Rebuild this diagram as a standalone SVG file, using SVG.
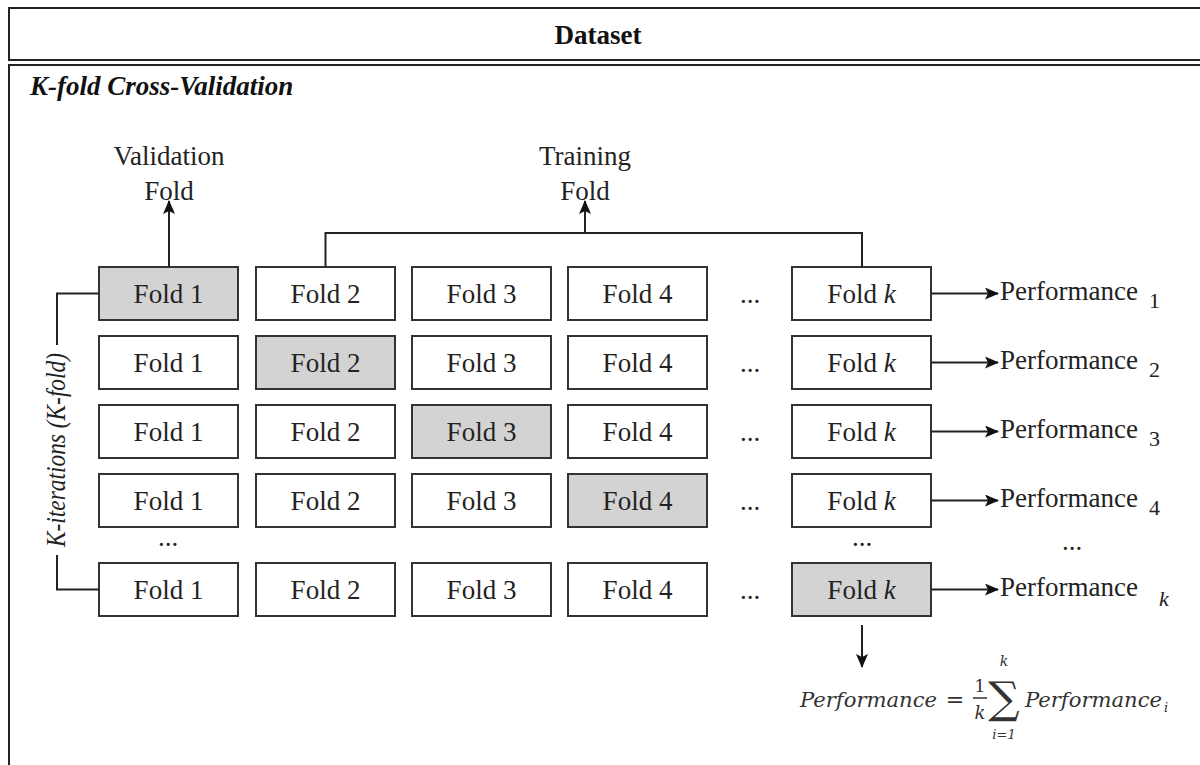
<svg xmlns="http://www.w3.org/2000/svg" width="1200" height="765" viewBox="0 0 1200 765">
  <defs>
    <marker id="arrow" markerUnits="userSpaceOnUse" markerWidth="14" markerHeight="12" refX="13" refY="6" orient="auto">
      <path d="M0,0 L14,6 L0,12 L3,6 Z" fill="#111"/>
    </marker>
    <style>
      .frame { fill: none; stroke: #222; stroke-width: 2; }
      .box { fill: #fff; stroke: #333; stroke-width: 2; }
      .sel { fill: #d3d3d3; stroke: #333; stroke-width: 2; }
      .t { font-family: "Liberation Serif", "Times New Roman", serif; font-size: 27px; fill: #222; }
      .c { text-anchor: middle; }
      .sub { font-family: "Liberation Serif", "Times New Roman", serif; font-size: 22px; fill: #222; }
      .head { font-family: "Liberation Serif", "Times New Roman", serif; font-size: 27px; font-weight: bold; fill: #111; }
      .m { font-family: "DejaVu Serif", "Liberation Serif", serif; fill: #333; }
      .it { font-style: italic; }
      .conn { fill: none; stroke: #222; stroke-width: 2; }
    </style>
  </defs>

  <rect width="1200" height="765" fill="#fff"/>

  <!-- outer frames -->
  <g id="dataset">
    <rect class="frame" x="9" y="8" width="1210" height="52"/>
    <text class="head c" x="598" y="44">Dataset</text>
  </g>
  <g id="kfold-panel">
    <rect class="frame" x="9" y="65" width="1210" height="720"/>
    <text class="head it" x="30" y="95">K-fold Cross-Validation</text>
  </g>

  <!-- labels above the grid -->
  <g id="validation-label">
    <text class="t c" x="169" y="165">Validation</text>
    <text class="t c" x="169" y="200">Fold</text>
  </g>
  <g id="training-label">
    <text class="t c" x="585" y="165">Training</text>
    <text class="t c" x="585" y="200">Fold</text>
  </g>

  <!-- row 1 -->
  <g id="row1">
    <rect class="sel" x="99" y="267" width="139" height="53"/><text class="t c" x="168.5" y="303">Fold 1</text>
    <rect class="box" x="256" y="267" width="139" height="53"/><text class="t c" x="325.5" y="303">Fold 2</text>
    <rect class="box" x="412" y="267" width="139" height="53"/><text class="t c" x="481.5" y="303">Fold 3</text>
    <rect class="box" x="568" y="267" width="139" height="53"/><text class="t c" x="637.5" y="303">Fold 4</text>
    <text class="t c" x="750" y="303">...</text>
    <rect class="box" x="792" y="267" width="139" height="53"/><text class="t c" x="861.5" y="303">Fold <tspan class="it">k</tspan></text>
    <text class="t" x="1000" y="300">Performance</text><text class="sub" x="1149" y="308">1</text>
  </g>

  <!-- row 2 -->
  <g id="row2">
    <rect class="box" x="99" y="336" width="139" height="53"/><text class="t c" x="168.5" y="372">Fold 1</text>
    <rect class="sel" x="256" y="336" width="139" height="53"/><text class="t c" x="325.5" y="372">Fold 2</text>
    <rect class="box" x="412" y="336" width="139" height="53"/><text class="t c" x="481.5" y="372">Fold 3</text>
    <rect class="box" x="568" y="336" width="139" height="53"/><text class="t c" x="637.5" y="372">Fold 4</text>
    <text class="t c" x="750" y="372">...</text>
    <rect class="box" x="792" y="336" width="139" height="53"/><text class="t c" x="861.5" y="372">Fold <tspan class="it">k</tspan></text>
    <text class="t" x="1000" y="369">Performance</text><text class="sub" x="1149" y="377">2</text>
  </g>

  <!-- row 3 -->
  <g id="row3">
    <rect class="box" x="99" y="405" width="139" height="53"/><text class="t c" x="168.5" y="441">Fold 1</text>
    <rect class="box" x="256" y="405" width="139" height="53"/><text class="t c" x="325.5" y="441">Fold 2</text>
    <rect class="sel" x="412" y="405" width="139" height="53"/><text class="t c" x="481.5" y="441">Fold 3</text>
    <rect class="box" x="568" y="405" width="139" height="53"/><text class="t c" x="637.5" y="441">Fold 4</text>
    <text class="t c" x="750" y="441">...</text>
    <rect class="box" x="792" y="405" width="139" height="53"/><text class="t c" x="861.5" y="441">Fold <tspan class="it">k</tspan></text>
    <text class="t" x="1000" y="438">Performance</text><text class="sub" x="1149" y="446">3</text>
  </g>

  <!-- row 4 -->
  <g id="row4">
    <rect class="box" x="99" y="474" width="139" height="53"/><text class="t c" x="168.5" y="510">Fold 1</text>
    <rect class="box" x="256" y="474" width="139" height="53"/><text class="t c" x="325.5" y="510">Fold 2</text>
    <rect class="box" x="412" y="474" width="139" height="53"/><text class="t c" x="481.5" y="510">Fold 3</text>
    <rect class="sel" x="568" y="474" width="139" height="53"/><text class="t c" x="637.5" y="510">Fold 4</text>
    <text class="t c" x="750" y="510">...</text>
    <rect class="box" x="792" y="474" width="139" height="53"/><text class="t c" x="861.5" y="510">Fold <tspan class="it">k</tspan></text>
    <text class="t" x="1000" y="507">Performance</text><text class="sub" x="1149" y="515">4</text>
  </g>

  <!-- elided rows -->
  <g id="ellipsis-row">
    <text class="t c" x="168" y="546">...</text>
    <text class="t c" x="862" y="546">...</text>
    <text class="t c" x="1072" y="550">...</text>
  </g>

  <!-- row k -->
  <g id="rowk">
    <rect class="box" x="99" y="563" width="139" height="53"/><text class="t c" x="168.5" y="599">Fold 1</text>
    <rect class="box" x="256" y="563" width="139" height="53"/><text class="t c" x="325.5" y="599">Fold 2</text>
    <rect class="box" x="412" y="563" width="139" height="53"/><text class="t c" x="481.5" y="599">Fold 3</text>
    <rect class="box" x="568" y="563" width="139" height="53"/><text class="t c" x="637.5" y="599">Fold 4</text>
    <text class="t c" x="750" y="599">...</text>
    <rect class="sel" x="792" y="563" width="139" height="53"/><text class="t c" x="861.5" y="599">Fold <tspan class="it">k</tspan></text>
    <text class="t" x="1000" y="596">Performance</text><text class="sub it" x="1159" y="606">k</text>
  </g>

  <!-- iteration label -->
  <g id="iterations-label">
    <text class="t c it" x="0" y="0" font-size="23" textLength="194" lengthAdjust="spacingAndGlyphs" transform="translate(65,450) rotate(-90)">K-iterations (K-fold)</text>
  </g>

  <!-- averaged performance -->
  <g id="formula">
    <text class="m it" x="800" y="707" font-size="20" textLength="137" lengthAdjust="spacingAndGlyphs">Performance</text>
    <text class="m c" x="955" y="707" font-size="22">=</text>
    <text class="m c" x="980" y="692" font-size="17">1</text>
    <line x1="973" y1="698" x2="987" y2="698" stroke="#333" stroke-width="1.5"/>
    <text class="m c it" x="980" y="719" font-size="18">k</text>
    <text class="m c" x="1004" y="713" font-size="44">∑</text>
    <text class="m c it" x="1004" y="666" font-size="14">k</text>
    <text class="m c it" x="1004" y="739" font-size="13">i=1</text>
    <text class="m it" x="1025" y="707" font-size="20" textLength="137" lengthAdjust="spacingAndGlyphs">Performance</text>
    <text class="m it" x="1164" y="712" font-size="13">i</text>
  </g>

  <!-- connectors -->
  <g id="connectors">
    <path class="conn" d="M169,267 V201" marker-end="url(#arrow)"/>
    <path class="conn" d="M325.5,267 V233 H862 V267"/>
    <path class="conn" d="M585,233 V201" marker-end="url(#arrow)"/>
    <path class="conn" d="M99,293.5 H57 V345"/>
    <path class="conn" d="M57,555 V589.5 H99"/>
    <path class="conn" d="M931,293.5 H998" marker-end="url(#arrow)"/>
    <path class="conn" d="M931,362.5 H998" marker-end="url(#arrow)"/>
    <path class="conn" d="M931,431.5 H998" marker-end="url(#arrow)"/>
    <path class="conn" d="M931,500.5 H998" marker-end="url(#arrow)"/>
    <path class="conn" d="M931,589.5 H998" marker-end="url(#arrow)"/>
    <path class="conn" d="M862,625 V667" marker-end="url(#arrow)"/>
  </g>
</svg>
